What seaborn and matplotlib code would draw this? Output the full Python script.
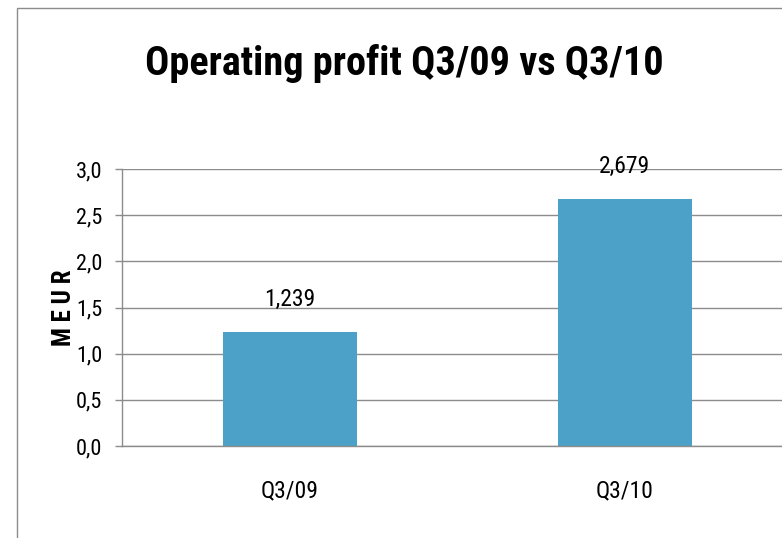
import matplotlib
matplotlib.use("Agg")
import matplotlib.pyplot as plt
import seaborn as sns
import pandas as pd
from matplotlib.patches import Rectangle

# data
quarters = ["Q3/09", "Q3/10"]
profit = [1.239, 2.679]
yticks = [0.0, 0.5, 1.0, 1.5, 2.0, 2.5, 3.0]

sns.set_style("white")
plt.rcParams['font.family'] = ['Roboto Condensed', 'DejaVu Sans']
plt.rcParams['text.color'] = 'black'
plt.rcParams['xtick.color'] = 'black'
plt.rcParams['ytick.color'] = 'black'
plt.rcParams['axes.labelcolor'] = 'black'

df = pd.DataFrame({"quarter": quarters, "profit": profit})

fig = plt.figure(figsize=(7.82, 5.38), dpi=100)
ax = fig.add_axes([122 / 782, 92 / 538, 670 / 782, 277 / 538])

sns.barplot(data=df, x="quarter", y="profit", color="#4BA1C7",
            width=0.4, saturation=1, linewidth=0, ax=ax)

ax.set_xlim(-0.5, 1.5)
ax.set_ylim(0, 3.0)
ax.set_yticks(yticks)
ax.set_yticklabels([f"{t:.1f}".replace('.', ',') for t in yticks], fontsize=16)
ax.yaxis.grid(True, color="#8c8c8c", linewidth=1)
ax.set_axisbelow(True)

# category boundary ticks
ax.set_xticks([-0.5, 0.5, 1.5], minor=True)
ax.tick_params(axis='x', which='minor', length=6, color="#8c8c8c", width=1)
ax.tick_params(axis='x', which='major', length=0, pad=24, labelsize=17)
ax.tick_params(axis='y', which='major', length=5, color="#8c8c8c", width=1,
               left=True, pad=9)

for side in ['top', 'right']:
    ax.spines[side].set_visible(False)
for side in ['left', 'bottom']:
    ax.spines[side].set_color("#8c8c8c")
    ax.spines[side].set_linewidth(1)

ax.set_xlabel("")
ax.set_ylabel("M E U R", fontsize=18, fontweight='bold', labelpad=0)

labels = [f"{v:.3f}".replace('.', ',') for v in profit]
ax.bar_label(ax.containers[0], labels=labels, padding=15, fontsize=17)

fig.suptitle("Operating profit Q3/09 vs Q3/10", fontsize=29, fontweight='bold',
             x=404 / 782, y=1 - 75 / 538, va='baseline')

# outer chart border
fig.patches.append(Rectangle((17 / 782, -0.1), 1.2, 1.1 - 8 / 538,
                             transform=fig.transFigure, fill=False,
                             edgecolor="#8c8c8c", linewidth=1))

fig.savefig("out.png", dpi=100)
